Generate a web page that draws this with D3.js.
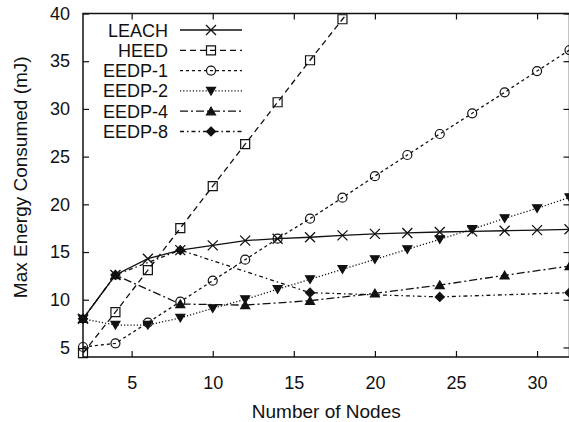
<!DOCTYPE html>
<html>
<head>
<meta charset="utf-8">
<script src="https://cdn.jsdelivr.net/npm/d3@7"></script>
<style>
  body { margin: 0; background: #fff; }
  svg { display: block; font-family: "Liberation Sans", Arial, sans-serif; }
</style>
</head>
<body>
<div id="chart"></div>
<script>
// values
const nodes = [2, 4, 6, 8, 10, 12, 14, 16, 18, 20, 22, 24, 26, 28, 30, 32];
const leach = [8.0, 12.6, 14.3, 15.2, 15.7, 16.2, 16.4, 16.55, 16.75, 16.9, 17.0, 17.1, 17.17, 17.23, 17.3, 17.38];
const heedNodes = [2, 4, 6, 8, 10, 12, 14, 16, 18, 20];
const heed = [4.4, 8.7, 13.1, 17.5, 21.9, 26.3, 30.7, 35.1, 39.4, 43.8];
const eedp1 = [5.05, 5.43, 7.6, 9.8, 12.0, 14.2, 16.4, 18.5, 20.7, 22.95, 25.17, 27.37, 29.54, 31.74, 33.97, 36.17];
const eedp2 = [8.0, 7.35, 7.35, 8.1, 9.1, 10.04, 11.1, 12.14, 13.19, 14.23, 15.28, 16.33, 17.4, 18.53, 19.58, 20.73];
const eedp4Nodes = [2, 4, 8, 12, 16, 20, 24, 28, 32];
const eedp4 = [8.0, 12.6, 9.55, 9.44, 9.9, 10.67, 11.54, 12.56, 13.53];
const eedp8Nodes = [2, 4, 8, 16, 24, 32];
const eedp8 = [8.0, 12.6, 15.2, 10.74, 10.3, 10.74];
const xTicks = [5, 10, 15, 20, 25, 30];
const yTicks = [5, 10, 15, 20, 25, 30, 35, 40];

const ink = "#111";
const fontSize = "18px";
const titleSize = "19px";

const series = [
  { name: "LEACH", xs: nodes, ys: leach, dash: null, marker: "times" },
  { name: "HEED", xs: heedNodes, ys: heed, dash: "6,4", marker: "square" },
  { name: "EEDP-1", xs: nodes, ys: eedp1, dash: "3,3", marker: "circle" },
  { name: "EEDP-2", xs: nodes, ys: eedp2, dash: "1.2,2", marker: "down" },
  { name: "EEDP-4", xs: eedp4Nodes, ys: eedp4, dash: "8,3,2,3", marker: "up" },
  { name: "EEDP-8", xs: eedp8Nodes, ys: eedp8, dash: "4,3,1.5,3", marker: "diamond" }
];

const W = 569, H = 422;
const margin = { top: 13.5, right: -0.5, bottom: 65, left: 83 };
const width = W - margin.left - margin.right;
const height = H - margin.top - margin.bottom;

const svg = d3.select("#chart").append("svg")
  .attr("width", W).attr("height", H);
svg.append("rect").attr("width", W).attr("height", H).attr("fill", "#fff");

const g = svg.append("g").attr("transform", `translate(${margin.left},${margin.top})`);

const x = d3.scaleLinear().domain([2, 32]).range([0, width]);
const y = d3.scaleLinear().domain([4, 40]).range([height, 0]);

// axes, ticks pointing inward
const xAxis = g.append("g").attr("transform", `translate(0,${height})`)
  .call(d3.axisBottom(x).tickValues(xTicks).tickSizeInner(-6).tickSizeOuter(0).tickPadding(19));
const xTop = g.append("g")
  .call(d3.axisTop(x).tickValues(xTicks).tickSizeInner(-6).tickSizeOuter(0).tickFormat(""));
const yAxis = g.append("g")
  .call(d3.axisLeft(y).tickValues(yTicks).tickSizeInner(-6).tickSizeOuter(0).tickPadding(13));
const yRight = g.append("g").attr("transform", `translate(${width},0)`)
  .call(d3.axisRight(y).tickValues(yTicks).tickSizeInner(-6).tickSizeOuter(0).tickFormat(""));

[xAxis, xTop, yAxis, yRight].forEach(a => {
  a.select(".domain").remove();
  a.selectAll("line").attr("stroke", ink).attr("stroke-width", 1.2);
  a.selectAll("text").attr("fill", ink).attr("font-size", fontSize)
    .attr("font-family", "Liberation Sans, Arial, sans-serif");
});

g.append("rect")
  .attr("width", width).attr("height", height)
  .attr("fill", "none").attr("stroke", ink).attr("stroke-width", 1.5);

// axis titles
svg.append("text")
  .attr("x", margin.left + width / 2).attr("y", 418)
  .attr("text-anchor", "middle").attr("font-size", titleSize).attr("fill", ink)
  .text("Number of Nodes");
svg.append("text")
  .attr("transform", `translate(27,${margin.top + height / 2 - 8}) rotate(-90)`)
  .attr("text-anchor", "middle").attr("font-size", titleSize).attr("fill", ink)
  .text("Max Energy Consumed (mJ)");

// markers
function markerPath(type) {
  const s = 4.5;
  switch (type) {
    case "times": return `M-5,-5L5,5M-5,5L5,-5`;
    case "square": return `M${-s},${-s}H${s}V${s}H${-s}Z`;
    case "circle": return d3.arc()({ innerRadius: 0, outerRadius: s, startAngle: 0, endAngle: 2 * Math.PI });
    case "down": return `M${-s},${-s * 0.8}L${s},${-s * 0.8}L0,${s * 0.9}Z`;
    case "up": return `M${-s},${s * 0.8}L${s},${s * 0.8}L0,${-s * 0.9}Z`;
    case "diamond": return `M0,${-s}L${s},0L0,${s}L${-s},0Z`;
  }
}
function drawMarker(sel, type) {
  const filled = ["down", "up", "diamond"].includes(type);
  sel.append("path")
    .attr("d", markerPath(type))
    .attr("fill", filled ? ink : "none")
    .attr("stroke", ink)
    .attr("stroke-width", type === "times" ? 1.3 : 1.2);
}

svg.append("defs").append("clipPath").attr("id", "plotClip")
  .append("rect").attr("x", -1).attr("y", 0).attr("width", width + 2).attr("height", height);

const plot = g.append("g").attr("clip-path", "url(#plotClip)");

const line = d3.line().x(d => x(d[0])).y(d => y(d[1]));

series.forEach(s => {
  const pts = s.xs.map((v, i) => [v, s.ys[i]]);
  plot.append("path")
    .datum(pts)
    .attr("d", line)
    .attr("fill", "none")
    .attr("stroke", ink)
    .attr("stroke-width", 1.3)
    .attr("stroke-dasharray", s.dash);
});

const markerLayer = g.append("g");
series.forEach(s => {
  s.xs.forEach((v, i) => {
    if (s.ys[i] > 40) return;
    const m = markerLayer.append("g").attr("transform", `translate(${x(v)},${y(s.ys[i])})`);
    drawMarker(m, s.marker);
  });
});

// legend
const legend = svg.append("g");
series.forEach((s, i) => {
  const ly = 30 + i * 20.3;
  legend.append("text")
    .attr("x", 168).attr("y", ly + 6.5)
    .attr("text-anchor", "end").attr("font-size", fontSize).attr("fill", ink)
    .text(s.name);
  legend.append("line")
    .attr("x1", 180).attr("x2", 242).attr("y1", ly).attr("y2", ly)
    .attr("stroke", ink).attr("stroke-width", 1.3)
    .attr("stroke-dasharray", s.dash);
  const m = legend.append("g").attr("transform", `translate(211,${ly})`);
  drawMarker(m, s.marker);
});
</script>
</body>
</html>
